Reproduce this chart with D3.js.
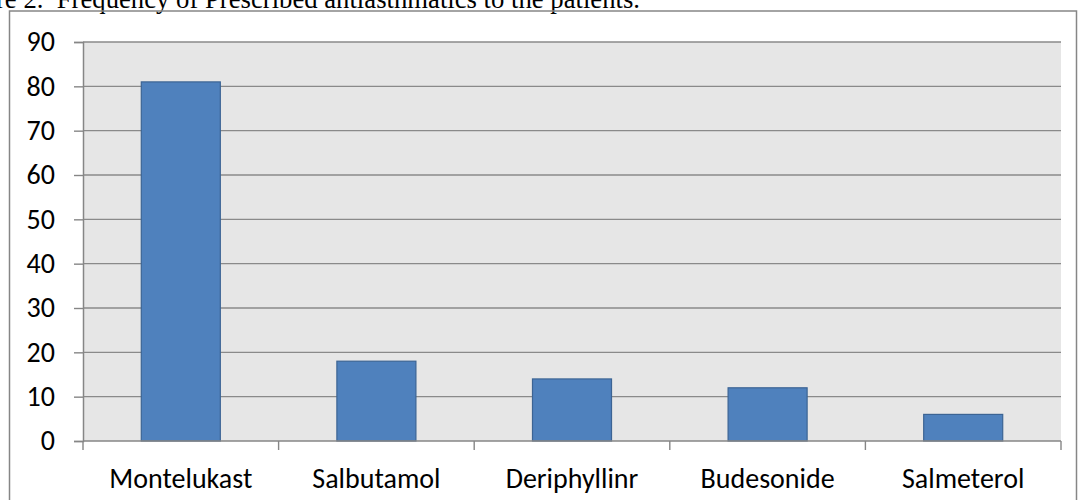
<!DOCTYPE html>
<html>
<head>
<meta charset="utf-8">
<script src="https://cdn.jsdelivr.net/npm/d3@7"></script>
<style>
  body { margin: 0; background: #fff; }
  svg { display: block; }
  .tick-lbl { font-family: Carlito, "Liberation Sans", Arial, sans-serif; font-size: 28px; fill: #000; }
  .title { font-family: "Liberation Serif", "Times New Roman", serif; font-size: 26.7px; fill: #000; white-space: pre; }
</style>
</head>
<body>
<div id="chart"></div>
<script>
// data
const drugs = ['Montelukast', 'Salbutamol', 'Deriphyllinr', 'Budesonide', 'Salmeterol'];
const counts = [81, 18, 14, 12, 6];
const yTicks = [0, 10, 20, 30, 40, 50, 60, 70, 80, 90];
const caption = 'Figure 2.  Frequency of Prescribed antiasthmatics to the patients.';

const W = 1078, H = 500;
const plot = {left: 83, right: 1061, top: 42, bottom: 441};

const svg = d3.select('#chart').append('svg')
  .attr('width', W)
  .attr('height', H);

// caption, cut by top edge as in the scan
svg.append('text')
  .attr('class', 'title')
  .attr('x', 640)
  .attr('y', 8)
  .attr('text-anchor', 'end')
  .attr('xml:space', 'preserve')
  .text(caption);

// outer chart frame
svg.append('rect')
  .attr('x', 9.5).attr('y', 11)
  .attr('width', 1067).attr('height', 520)
  .attr('fill', 'none')
  .attr('stroke', '#868686')
  .attr('stroke-width', 1.5);

const x = d3.scaleBand()
  .domain(drugs)
  .range([plot.left, plot.right])
  .paddingInner(0.596)
  .paddingOuter(0.298);

const xEdge = d3.scaleLinear()
  .domain([0, drugs.length])
  .range([plot.left, plot.right]);

const y = d3.scaleLinear()
  .domain([0, 90])
  .range([plot.bottom, plot.top]);

// plot background
svg.append('rect')
  .attr('x', plot.left).attr('y', plot.top)
  .attr('width', plot.right - plot.left)
  .attr('height', plot.bottom - plot.top)
  .attr('fill', '#e6e6e6');

// horizontal gridlines
svg.append('g')
  .selectAll('line')
  .data(yTicks.filter(d => d > 0))
  .enter()
  .append('line')
    .attr('x1', plot.left).attr('x2', plot.right)
    .attr('y1', d => y(d)).attr('y2', d => y(d))
    .attr('stroke', '#8a8a8a')
    .attr('stroke-width', 1.4);

// bars
svg.append('g')
  .selectAll('rect')
  .data(drugs)
  .enter()
  .append('rect')
    .attr('x', d => x(d))
    .attr('y', (d, i) => y(counts[i]))
    .attr('width', x.bandwidth())
    .attr('height', (d, i) => y(0) - y(counts[i]))
    .attr('fill', '#4f81bd')
    .attr('stroke', '#3c6494')
    .attr('stroke-width', 1.2);

// y axis
const yAxis = svg.append('g')
  .attr('transform', `translate(${plot.left},0)`)
  .call(d3.axisLeft(y).tickValues(yTicks).tickSize(9).tickPadding(19));
yAxis.select('.domain').attr('stroke', '#868686').attr('stroke-width', 1.5);
yAxis.selectAll('.tick line').attr('stroke', '#868686').attr('stroke-width', 1.4);
yAxis.selectAll('.tick text').attr('class', 'tick-lbl');
yAxis.attr('font-size', null).attr('font-family', null);

// x axis line and tick marks at category boundaries
svg.append('line')
  .attr('x1', plot.left).attr('x2', plot.right)
  .attr('y1', plot.bottom).attr('y2', plot.bottom)
  .attr('stroke', '#868686')
  .attr('stroke-width', 1.5);

svg.append('g')
  .selectAll('line')
  .data(d3.range(drugs.length + 1))
  .enter()
  .append('line')
    .attr('x1', d => xEdge(d)).attr('x2', d => xEdge(d))
    .attr('y1', plot.bottom).attr('y2', plot.bottom + 9)
    .attr('stroke', '#868686')
    .attr('stroke-width', 1.4);

svg.append('g')
  .selectAll('text')
  .data(drugs)
  .enter()
  .append('text')
    .attr('class', 'tick-lbl')
    .attr('x', d => x(d) + x.bandwidth() / 2)
    .attr('y', 488)
    .attr('text-anchor', 'middle')
    .text(d => d);
</script>
</body>
</html>
